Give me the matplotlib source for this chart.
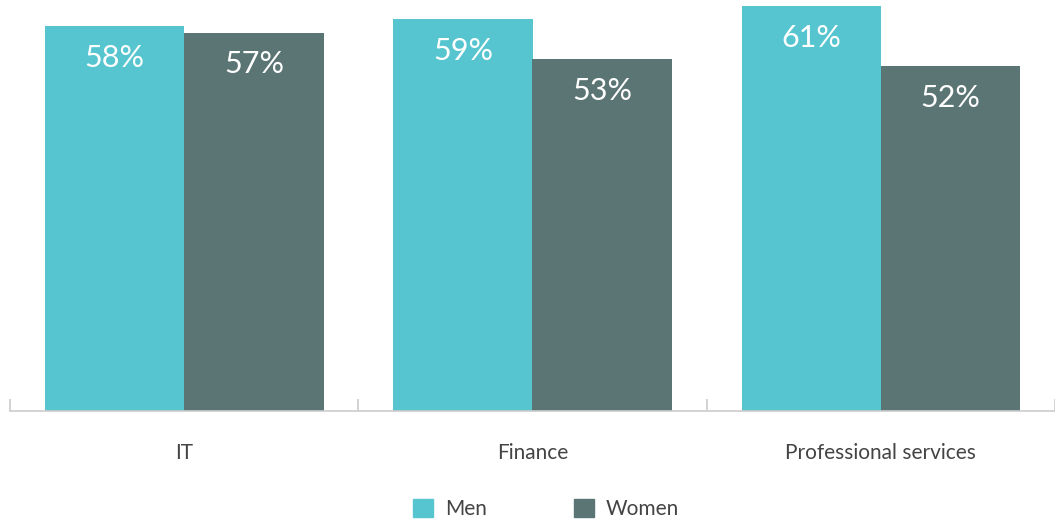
import matplotlib.pyplot as plt
import numpy as np
from matplotlib.patches import Patch

plt.rcParams['font.family'] = ['Lato', 'DejaVu Sans']

categories = ["IT", "Finance", "Professional services"]
men = [58, 59, 61]
women = [57, 53, 52]

men_color = "#56C5D0"
women_color = "#5B7574"

fig = plt.figure(figsize=(10.55, 5.23), dpi=100)
ax = fig.add_axes([10/1055, 112/523, 1045/1055, 411/523])

x = np.arange(len(categories))
w = 0.4
bars_m = ax.bar(x - w/2, men, w, color=men_color)
bars_w = ax.bar(x + w/2, women, w, color=women_color)

for bars, vals in ((bars_m, men), (bars_w, women)):
    for b, v in zip(bars, vals):
        ax.annotate(f"{v}%", (b.get_x() + b.get_width()/2, b.get_height()),
                    xytext=(0, -23), textcoords="offset points",
                    ha="center", va="center", color="white", fontsize=22)

ax.set_xlim(-0.5, -0.5 + 1045/351)
ax.set_ylim(0, 411/6.64)
ax.set_yticks([])
ax.set_xticks(x)
ax.set_xticklabels(categories, fontsize=15, color="#444444")
ax.tick_params(axis="x", which="major", length=0, pad=23)
ax.set_xticks([-0.5, 0.5, 1.5, 2.5], minor=True)
ax.tick_params(axis="x", which="minor", direction="in", length=9, width=1.2, color="#cccccc")
for s in ["top", "right", "left"]:
    ax.spines[s].set_visible(False)
ax.spines["bottom"].set_color("#cccccc")
ax.spines["bottom"].set_linewidth(1.2)

handles = [Patch(color=men_color, label="Men"), Patch(color=women_color, label="Women")]
fig.legend(handles=handles, loc="center", bbox_to_anchor=(546/1055, 14/523), ncol=2,
           frameon=False, fontsize=15, labelcolor="#444444",
           handlelength=0.97, handleheight=0.97, handletextpad=0.55, columnspacing=4.2)

fig.savefig("out.png", dpi=100)
